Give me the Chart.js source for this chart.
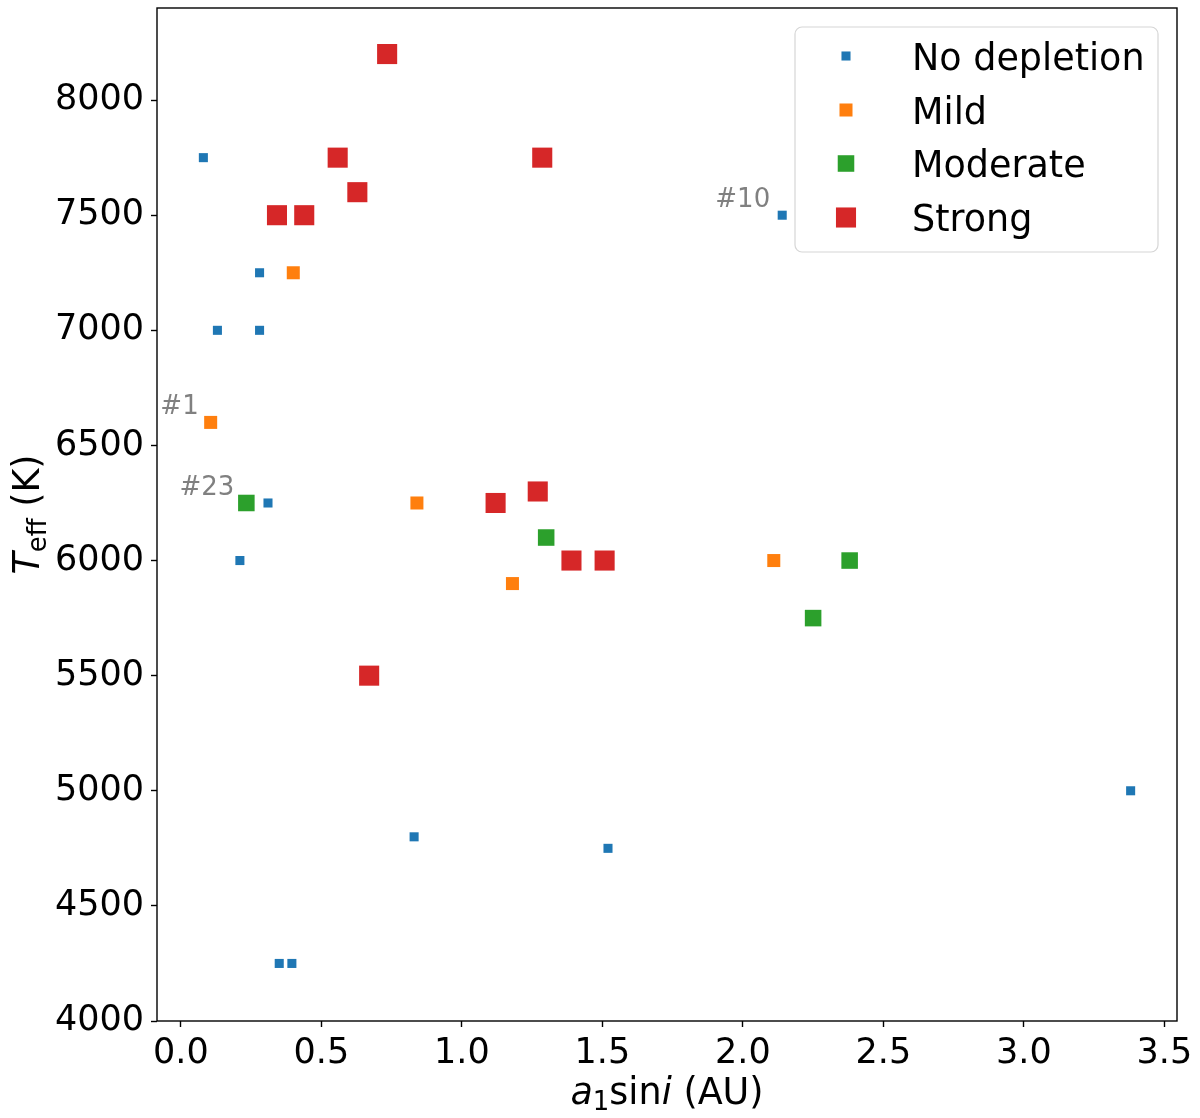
<!DOCTYPE html>
<html>
<head>
<meta charset="utf-8">
<script src="https://cdn.jsdelivr.net/npm/chart.js@4/dist/chart.umd.min.js"></script>
<style>
html,body{margin:0;padding:0;background:#fff;}
canvas{display:block;}
</style>
</head>
<body>
<canvas id="c" width="1200" height="1118"></canvas>
<script>
// ---- data ----
const seriesNames = ['No depletion', 'Mild', 'Moderate', 'Strong'];
const seriesColors = ['#1f77b4', '#ff7f0e', '#2ca02c', '#d62728'];

const noDepX = [0.08, 0.28, 0.13, 0.28, 0.31, 0.21, 2.14, 0.83, 1.52, 3.38, 0.35, 0.395];
const noDepY = [7750, 7250, 7000, 7000, 6250, 6000, 7500, 4800, 4750, 5000, 4250, 4250];

const mildX = [0.40, 0.106, 0.84, 1.18, 2.11];
const mildY = [7250, 6600, 6250, 5900, 6000];

const modX = [0.233, 1.30, 2.38, 2.25];
const modY = [6250, 6100, 6000, 5750];

const strongX = [0.734, 0.558, 1.286, 0.628, 0.342, 0.439, 1.12, 1.27, 1.39, 1.508, 0.67];
const strongY = [8200, 7750, 7750, 7600, 7500, 7500, 6250, 6300, 6000, 6000, 5500];

const xTicks = [0.0, 0.5, 1.0, 1.5, 2.0, 2.5, 3.0, 3.5];
const yTicks = [4000, 4500, 5000, 5500, 6000, 6500, 7000, 7500, 8000];

const annoLabels = ['#1', '#23', '#10'];
const annoX = [0.106, 0.233, 2.14];
const annoY = [6600, 6250, 7500];

// ---- styles ----
const FONT = '"DejaVu Sans", sans-serif';
const FS = 35;
const FL = 36.5;
const markerRadius = [6.4, 9.2, 11.7, 14.2];

function pts(xs, ys) { return xs.map((v, i) => ({x: v, y: ys[i]})); }
const allX = [noDepX, mildX, modX, strongX];
const allY = [noDepY, mildY, modY, strongY];

const datasets = seriesNames.map((name, i) => ({
  label: name,
  data: pts(allX[i], allY[i]),
  pointStyle: 'rect',
  pointRadius: markerRadius[i],
  pointHoverRadius: markerRadius[i],
  backgroundColor: seriesColors[i],
  borderColor: seriesColors[i],
  borderWidth: 0,
  order: 4 - i
}));

const framePlugin = {
  id: 'frame',
  afterDraw(chart) {
    const ctx = chart.ctx;
    const a = chart.chartArea;
    const xs = chart.scales.x, ys = chart.scales.y;
    ctx.save();
    // frame
    ctx.strokeStyle = '#000';
    ctx.lineWidth = 1.4;
    ctx.strokeRect(a.left, a.top, a.right - a.left, a.bottom - a.top);

    // annotations
    ctx.font = '26px ' + FONT;
    ctx.fillStyle = '#808080';
    ctx.textAlign = 'right';
    ctx.textBaseline = 'alphabetic';
    annoLabels.forEach((t, i) => {
      const px = xs.getPixelForValue(annoX[i]);
      const py = ys.getPixelForValue(annoY[i]);
      ctx.fillText(t, px - 12, py - 8);
    });

    // legend
    const lx = 795, ly = 27, lw = 363, lh = 225, r = 7;
    ctx.beginPath();
    ctx.moveTo(lx + r, ly);
    ctx.arcTo(lx + lw, ly, lx + lw, ly + lh, r);
    ctx.arcTo(lx + lw, ly + lh, lx, ly + lh, r);
    ctx.arcTo(lx, ly + lh, lx, ly, r);
    ctx.arcTo(lx, ly, lx + lw, ly, r);
    ctx.closePath();
    ctx.fillStyle = 'rgba(255,255,255,0.8)';
    ctx.fill();
    ctx.strokeStyle = '#d6d6d6';
    ctx.lineWidth = 1.2;
    ctx.stroke();
    const rowY = [56, 110, 163.5, 217.5];
    ctx.textAlign = 'left';
    ctx.textBaseline = 'alphabetic';
    ctx.font = FL + 'px ' + FONT;
    seriesNames.forEach((n, i) => {
      const s = markerRadius[i] * Math.SQRT1_2;
      ctx.fillStyle = seriesColors[i];
      ctx.fillRect(846 - s, rowY[i] - s, 2 * s, 2 * s);
      ctx.fillStyle = '#000';
      ctx.fillText(n, 912, rowY[i] + 13.5);
    });

    // axis titles (mixed styles)
    function drawPieces(pieces, cx, baseY) {
      let total = 0;
      pieces.forEach(p => { ctx.font = p.f; p.w = ctx.measureText(p.t).width; total += p.w; });
      let x = cx - total / 2;
      ctx.textAlign = 'left';
      ctx.textBaseline = 'alphabetic';
      ctx.fillStyle = '#000';
      pieces.forEach(p => { ctx.font = p.f; ctx.fillText(p.t, x, baseY + (p.dy || 0)); x += p.w; });
    }
    const it = 'italic ' + FL + 'px ' + FONT;
    const nm = FL + 'px ' + FONT;
    const sb = Math.round(FL * 0.7) + 'px ' + FONT;
    drawPieces([
      {t: 'a', f: it}, {t: '1', f: sb, dy: 6}, {t: 'sin', f: nm}, {t: 'i', f: it}, {t: ' (AU)', f: nm}
    ], (a.left + a.right) / 2, 1104);

    ctx.save();
    ctx.translate(39, (a.top + a.bottom) / 2);
    ctx.rotate(-Math.PI / 2);
    drawPieces([
      {t: 'T', f: it}, {t: 'eff', f: sb, dy: 7}, {t: ' (K)', f: nm}
    ], 0, 0);
    ctx.restore();

    ctx.restore();
  }
};

new Chart(document.getElementById('c'), {
  type: 'scatter',
  data: {datasets},
  options: {
    responsive: false,
    animation: false,
    devicePixelRatio: 1,
    layout: {autoPadding: false, padding: {top: 8, right: 23, left: 0, bottom: 0}},
    plugins: {legend: {display: false}, tooltip: {enabled: false}},
    scales: {
      x: {
        type: 'linear', position: 'bottom',
        min: -0.085, max: 3.545,
        grid: {display: true, drawOnChartArea: false, drawTicks: true, tickLength: 6, tickWidth: 1.4, tickColor: '#000'},
        border: {display: false},
        ticks: {font: {family: FONT, size: FS}, color: '#000', padding: 6, maxRotation: 0, autoSkip: false,
                callback: v => Number(v).toFixed(1)},
        afterBuildTicks: s => { s.ticks = xTicks.map(v => ({value: v})); },
        afterFit: s => { s.height = 97; s.paddingLeft = 0; s.paddingRight = 0; }
      },
      y: {
        type: 'linear', position: 'left',
        min: 4000, max: 8400,
        grid: {display: true, drawOnChartArea: false, drawTicks: true, tickLength: 6, tickWidth: 1.4, tickColor: '#000'},
        border: {display: false},
        ticks: {font: {family: FONT, size: FS}, color: '#000', padding: 7, autoSkip: false,
                callback: v => String(v)},
        afterBuildTicks: s => { s.ticks = yTicks.map(v => ({value: v})); },
        afterFit: s => { s.width = 157; s.paddingTop = 0; s.paddingBottom = 0; }
      }
    }
  },
  plugins: [framePlugin]
});
</script>
</body>
</html>
